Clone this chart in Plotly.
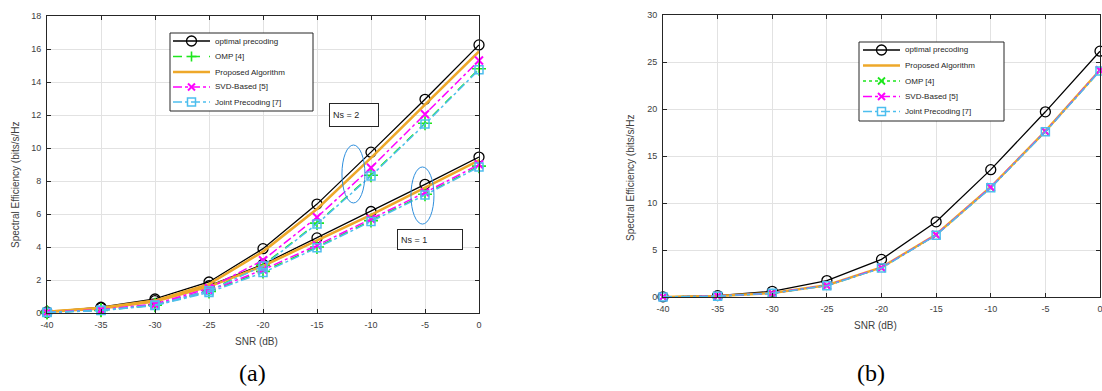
import plotly.graph_objects as go

snr = [-40, -35, -30, -25, -20, -15, -10, -5, 0]
x_ticks = [-40, -35, -30, -25, -20, -15, -10, -5, 0]
x_ticklabels = ["-40", "-35", "-30", "-25", "-20", "-15", "-10", "-5", "0"]
ya_ticks = [0, 2, 4, 6, 8, 10, 12, 14, 16, 18]
yb_ticks = [0, 5, 10, 15, 20, 25, 30]

# (a) Ns = 2
a_opt_ns2 = [0.06, 0.35, 0.85, 1.88, 3.9, 6.6, 9.75, 12.95, 16.25]
a_prop_ns2 = [0.08, 0.32, 0.75, 1.75, 3.72, 6.3, 9.4, 12.6, 15.85]
a_svd_ns2 = [0.04, 0.2, 0.55, 1.5, 3.2, 5.8, 8.8, 12.05, 15.3]
a_omp_ns2 = [0.04, 0.18, 0.5, 1.38, 2.9, 5.45, 8.35, 11.5, 14.8]
a_joint_ns2 = [0.04, 0.17, 0.48, 1.35, 2.85, 5.4, 8.3, 11.45, 14.75]
# (a) Ns = 1
a_opt_ns1 = [0.05, 0.3, 0.75, 1.65, 2.95, 4.55, 6.15, 7.8, 9.45]
a_prop_ns1 = [0.07, 0.28, 0.7, 1.6, 2.85, 4.4, 5.95, 7.6, 9.25]
a_svd_ns1 = [0.04, 0.18, 0.5, 1.35, 2.62, 4.1, 5.7, 7.3, 9.0]
a_omp_ns1 = [0.04, 0.16, 0.47, 1.3, 2.52, 4.0, 5.6, 7.2, 8.9]
a_joint_ns1 = [0.03, 0.15, 0.45, 1.25, 2.45, 3.95, 5.55, 7.15, 8.85]

# (b)
b_opt = [0.02, 0.15, 0.6, 1.75, 4.0, 8.0, 13.55, 19.7, 26.15]
b_prop = [0.01, 0.1, 0.42, 1.25, 3.15, 6.65, 11.7, 17.65, 24.15]
b_omp = [0.01, 0.1, 0.4, 1.22, 3.1, 6.6, 11.65, 17.6, 24.1]
b_svd = [0.01, 0.1, 0.41, 1.23, 3.12, 6.62, 11.68, 17.62, 24.12]
b_joint = [0.01, 0.09, 0.4, 1.2, 3.08, 6.58, 11.62, 17.58, 24.05]

names = {
    "opt": "optimal precoding",
    "omp": "OMP [4]",
    "prop": "Proposed Algorithm",
    "svd": "SVD-Based [5]",
    "joint": "Joint Precoding [7]",
}
legend_a_order = ["opt", "omp", "prop", "svd", "joint"]
legend_b_order = ["opt", "prop", "omp", "svd", "joint"]

BLACK = "#000000"
ORANGE = "#EEA82A"
GREEN = "#1EE61E"
MAGENTA = "#FF00FF"
CYAN = "#4DBEEE"

styles_a = {
    "opt": dict(line=dict(color=BLACK, width=1.3),
                marker=dict(symbol="circle-open", size=10, color=BLACK, line=dict(width=1.3, color=BLACK))),
    "omp": dict(line=dict(color=GREEN, width=1.5, dash="dash"),
                marker=dict(symbol="cross-thin-open", size=10, color=GREEN, line=dict(width=1.6, color=GREEN))),
    "prop": dict(line=dict(color=ORANGE, width=2.6), marker=None),
    "svd": dict(line=dict(color=MAGENTA, width=1.5, dash="dashdot"),
                marker=dict(symbol="x-thin-open", size=8, color=MAGENTA, line=dict(width=2, color=MAGENTA))),
    "joint": dict(line=dict(color=CYAN, width=1.5, dash="dashdot"),
                  marker=dict(symbol="square-open", size=8, color=CYAN, line=dict(width=1.5, color=CYAN))),
}
styles_b = {
    "opt": styles_a["opt"],
    "prop": dict(line=dict(color=ORANGE, width=2.4), marker=None),
    "omp": dict(line=dict(color=GREEN, width=1.5, dash="dot"),
                marker=dict(symbol="x-thin-open", size=8, color=GREEN, line=dict(width=1.8, color=GREEN))),
    "svd": styles_a["svd"],
    "joint": styles_a["joint"],
}

fig = go.Figure()

data_a = {
    "opt": (a_opt_ns2, a_opt_ns1),
    "omp": (a_omp_ns2, a_omp_ns1),
    "prop": (a_prop_ns2, a_prop_ns1),
    "svd": (a_svd_ns2, a_svd_ns1),
    "joint": (a_joint_ns2, a_joint_ns1),
}
for key in legend_a_order:
    st = styles_a[key]
    for i, ys in enumerate(data_a[key]):
        mode = "lines+markers" if st["marker"] else "lines"
        kw = dict(x=snr, y=ys, mode=mode, name=names[key] + (" (Ns = 2)" if i == 0 else " (Ns = 1)"),
                  line=st["line"], xaxis="x", yaxis="y", showlegend=False, cliponaxis=False)
        if st["marker"]:
            kw["marker"] = st["marker"]
        fig.add_trace(go.Scatter(**kw))

data_b = {"opt": b_opt, "prop": b_prop, "omp": b_omp, "svd": b_svd, "joint": b_joint}
for key in legend_b_order:
    st = styles_b[key]
    mode = "lines+markers" if st["marker"] else "lines"
    kw = dict(x=snr, y=data_b[key], mode=mode, name=names[key], line=st["line"],
              xaxis="x2", yaxis="y2", showlegend=False, cliponaxis=False)
    if st["marker"]:
        kw["marker"] = st["marker"]
    fig.add_trace(go.Scatter(**kw))

W, H = 1102, 391
def px(v):
    return v / W
def py(v):
    return 1 - v / H

TICKFONT = dict(family="Arial, Liberation Sans, sans-serif", size=9, color="#404040")
axis_common = dict(showline=True, linecolor="#262626", linewidth=1, mirror="ticks",
                   ticks="inside", ticklen=4, tickcolor="#262626", tickwidth=1,
                   showgrid=True, gridcolor="#e2e2e2", gridwidth=1, zeroline=False,
                   automargin=False, tickfont=TICKFONT, ticklabelstandoff=3,
                   ticklabeloverflow="allow")

fig.update_layout(
    width=W, height=H, autosize=False,
    margin=dict(l=0, r=0, t=0, b=0),
    paper_bgcolor="white", plot_bgcolor="white",
    showlegend=False,
    font=dict(family="Arial, Liberation Sans, sans-serif", size=9, color="#262626"),
    xaxis=dict(domain=[px(47), px(479)], range=[-40, 0], tickvals=x_ticks, ticktext=x_ticklabels,
               anchor="y", **axis_common),
    yaxis=dict(domain=[py(313), py(16)], range=[0, 18], tickvals=ya_ticks, anchor="x", **axis_common),
    xaxis2=dict(domain=[px(663), px(1100)], range=[-40, 0], tickvals=x_ticks, ticktext=x_ticklabels,
                anchor="y2", **axis_common),
    yaxis2=dict(domain=[py(297), py(15)], range=[0, 30], tickvals=yb_ticks, anchor="x2", **axis_common),
)

ann_font = dict(family="Arial, Liberation Sans, sans-serif", size=10, color="#404040")
annotations = [
    dict(text="SNR (dB)", x=px(256), y=py(341), xref="paper", yref="paper", showarrow=False,
         font=ann_font, xanchor="center", yanchor="middle"),
    dict(text="SNR (dB)", x=px(875), y=py(325), xref="paper", yref="paper", showarrow=False,
         font=ann_font, xanchor="center", yanchor="middle"),
    dict(text="Spectral Efficiency (bits/s/Hz", x=px(15), y=py(185), xref="paper", yref="paper",
         showarrow=False, textangle=-90, font=ann_font, xanchor="center", yanchor="middle"),
    dict(text="Spectral Efficiency (bits/s/Hz", x=px(630), y=py(178), xref="paper", yref="paper",
         showarrow=False, textangle=-90, font=ann_font, xanchor="center", yanchor="middle"),
    dict(text="(a)", x=px(252), y=py(373), xref="paper", yref="paper", showarrow=False,
         font=dict(family="Liberation Serif, Times New Roman, serif", size=24, color="black"),
         xanchor="center", yanchor="middle"),
    dict(text="(b)", x=px(871), y=py(373), xref="paper", yref="paper", showarrow=False,
         font=dict(family="Liberation Serif, Times New Roman, serif", size=24, color="black"),
         xanchor="center", yanchor="middle"),
    dict(text="Ns = 2", x=-11.57, y=12.0, xref="x", yref="y", showarrow=False,
         font=dict(family="Arial, Liberation Sans, sans-serif", size=9, color="#262626"),
         bordercolor="#262626", borderwidth=1, borderpad=3, bgcolor="white",
         width=42, height=16, align="left", xanchor="center", yanchor="middle"),
    dict(text="Ns = 1", x=-4.54, y=4.45, xref="x", yref="y", showarrow=False,
         font=dict(family="Arial, Liberation Sans, sans-serif", size=9, color="#262626"),
         bordercolor="#262626", borderwidth=1, borderpad=3, bgcolor="white",
         width=58, height=13, align="left", xanchor="center", yanchor="middle"),
]

ELL = "#2E8FDD"
shapes = [
    dict(type="circle", xref="x", yref="y", x0=-12.69, x1=-10.56, y0=6.67, y1=10.18,
         line=dict(color=ELL, width=1)),
    dict(type="circle", xref="x", yref="y", x0=-6.30, x1=-4.17, y0=5.39, y1=8.85,
         line=dict(color=ELL, width=1)),
]


def marker_shapes(symbol, cx, cy, color, lw):
    """Legend sample marker drawn in pixel size around a paper anchor."""
    base = dict(xref="paper", yref="paper", xsizemode="pixel", ysizemode="pixel",
                xanchor=px(cx), yanchor=py(cy))
    out = []
    if symbol == "circle":
        out.append(dict(type="circle", x0=-5, x1=5, y0=-5, y1=5, line=dict(color=color, width=lw),
                        fillcolor="rgba(0,0,0,0)", **base))
    elif symbol == "cross":
        out.append(dict(type="line", x0=-5, x1=5, y0=0, y1=0, line=dict(color=color, width=lw), **base))
        out.append(dict(type="line", x0=0, x1=0, y0=-5, y1=5, line=dict(color=color, width=lw), **base))
    elif symbol == "x":
        out.append(dict(type="line", x0=-3.5, x1=3.5, y0=-3.5, y1=3.5, line=dict(color=color, width=lw), **base))
        out.append(dict(type="line", x0=-3.5, x1=3.5, y0=3.5, y1=-3.5, line=dict(color=color, width=lw), **base))
    elif symbol == "square":
        out.append(dict(type="rect", x0=-4, x1=4, y0=-4, y1=4, line=dict(color=color, width=lw),
                        fillcolor="rgba(0,0,0,0)", **base))
    return out


def build_legend(order, styles, box, line_x, rows, text_x):
    x0, y0, x1, y1 = box
    shp = [dict(type="rect", xref="paper", yref="paper", x0=px(x0), x1=px(x1), y0=py(y1), y1=py(y0),
                line=dict(color="#262626", width=1), fillcolor="white", layer="above")]
    anns = []
    for key, ry in zip(order, rows):
        st = styles[key]
        ln = st["line"]
        shp.append(dict(type="line", xref="paper", yref="paper", x0=px(line_x[0]), x1=px(line_x[1]),
                        y0=py(ry), y1=py(ry),
                        line=dict(color=ln["color"], width=ln["width"], dash=ln.get("dash", "solid"))))
        mk = st["marker"]
        if mk:
            sym = mk["symbol"].split("-")[0]
            shp += marker_shapes(sym, (line_x[0] + line_x[1]) / 2, ry, mk["color"], mk["line"]["width"])
        anns.append(dict(text=names[key], x=px(text_x), y=py(ry), xref="paper", yref="paper",
                         showarrow=False, xanchor="left", yanchor="middle",
                         font=dict(family="Arial, Liberation Sans, sans-serif", size=8, color="#262626")))
    return shp, anns


la_shapes, la_anns = build_legend(legend_a_order, styles_a, (170, 33, 313, 111), (173, 210),
                                  [41, 56.5, 72, 87, 102], 213)
lb_shapes, lb_anns = build_legend(legend_b_order, styles_b, (859, 42, 1004, 121), (863, 900),
                                  [50, 65.5, 81, 96.5, 111.5], 903)
shapes += la_shapes + lb_shapes
annotations += la_anns + lb_anns

fig.update_layout(annotations=annotations, shapes=shapes)

fig.write_html("out.html", config={"displayModeBar": False},
               post_script="document.body.style.margin='0';document.body.style.overflow='hidden';")
